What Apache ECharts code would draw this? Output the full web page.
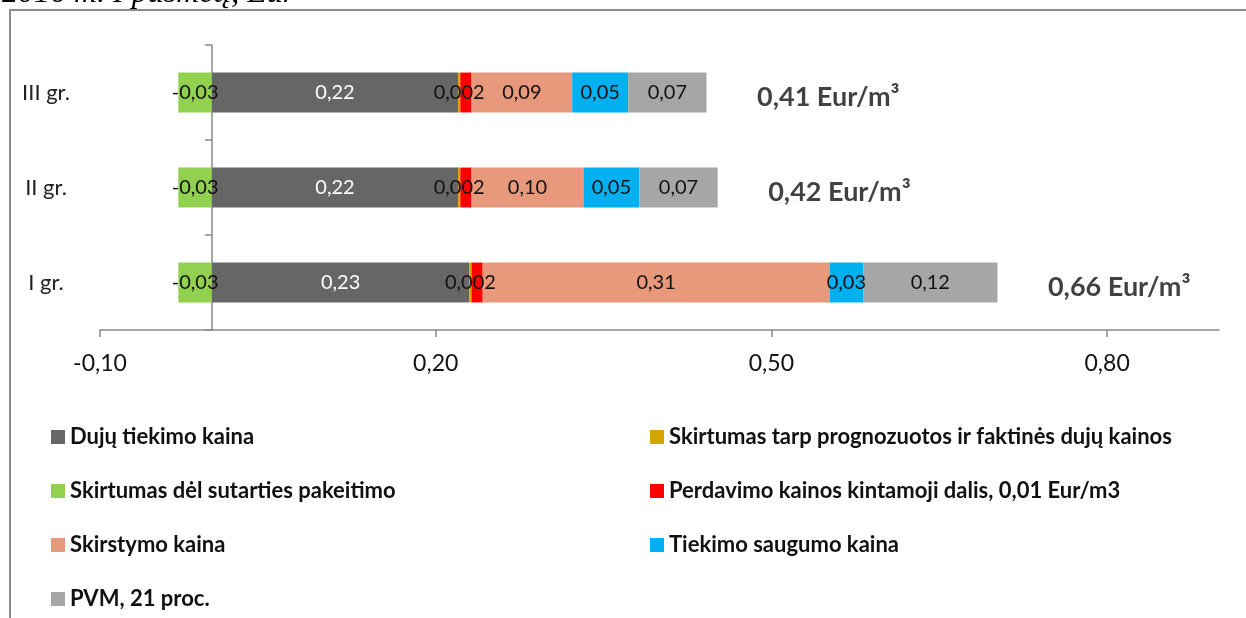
<!DOCTYPE html>
<html>
<head>
<meta charset="utf-8">
<script src="https://cdn.jsdelivr.net/npm/echarts@6/dist/echarts.min.js"></script>
<style>
  html, body { margin: 0; padding: 0; background: #fff; }
  #chart { width: 1246px; height: 618px; }
</style>
</head>
<body>
<div id="chart"></div>
<script>
// kategorijos (nuo apačios į viršų)
var groups = ['I gr.', 'II gr.', 'III gr.'];

var skirtumasSutarties = [-0.03, -0.03, -0.03];
var dujuTiekimas = [0.23, 0.22, 0.22];
var skirtumasPrognozes = [0.002, 0.002, 0.002];
var perdavimas = [0.01, 0.01, 0.01];
var skirstymas = [0.31, 0.10, 0.09];
var tiekimoSaugumas = [0.03, 0.05, 0.05];
var pvm = [0.12, 0.07, 0.07];

var totals = [0.66, 0.42, 0.41];
var xTicks = [-0.10, 0.20, 0.50, 0.80];

var FONT = 'Lato';

function comma(v, d) {
  return v.toFixed(d).replace('.', ',');
}

function decimals(v) {
  return Math.abs(v) < 0.01 ? 3 : 2;
}

function barSeries(name, data, color, labelColor, showLabel) {
  return {
    name: name,
    type: 'bar',
    stack: 'viso',
    yAxisIndex: 0,
    barWidth: '42%',
    data: data,
    itemStyle: { color: color },
    label: {
      show: showLabel,
      position: 'inside',
      color: labelColor,
      fontFamily: FONT,
      fontSize: 20,
      formatter: function (p) { return comma(p.value, decimals(p.value)); }
    }
  };
}

// pozityvių dalių suma - kur baigiasi stulpelis
var barEnds = groups.map(function (g, i) {
  return dujuTiekimas[i] + skirtumasPrognozes[i] + perdavimas[i] +
    skirstymas[i] + tiekimoSaugumas[i] + pvm[i];
});

var chart = echarts.init(document.getElementById('chart'));

var legendText = { fontFamily: FONT, fontSize: 22, fontWeight: 'bold', color: '#111' };

var option = {
  animation: false,
  grid: { left: 100, right: 27, top: 45, bottom: 288 },
  graphic: [
    {
      type: 'polyline',
      shape: { points: [[10, 618], [10, 10], [1246, 10]] },
      style: { stroke: '#8c8c8c', lineWidth: 2, fill: null }
    },
    {
      type: 'text',
      left: 2,
      top: -22,
      style: {
        text: '2016 m. I pusmetį, Eur',
        font: 'italic 32px "Liberation Serif"',
        fill: '#000'
      }
    }
  ],
  legend: [
    {
      orient: 'vertical',
      left: 51,
      top: 426,
      padding: 0,
      itemWidth: 14,
      itemHeight: 14,
      itemGap: 32,
      icon: 'rect',
      textStyle: legendText,
      data: ['Dujų tiekimo kaina', 'Skirtumas dėl sutarties pakeitimo', 'Skirstymo kaina', 'PVM, 21 proc.']
    },
    {
      orient: 'vertical',
      left: 650,
      top: 426,
      padding: 0,
      itemWidth: 14,
      itemHeight: 14,
      itemGap: 32,
      icon: 'rect',
      textStyle: legendText,
      data: ['Skirtumas tarp prognozuotos ir faktinės dujų kainos', 'Perdavimo kainos kintamoji dalis, 0,01 Eur/m3', 'Tiekimo saugumo kaina']
    }
  ],
  xAxis: {
    type: 'value',
    min: -0.1,
    max: 0.9,
    axisLine: { show: true, onZero: false, lineStyle: { color: '#8a8a8a', width: 1.5 } },
    axisTick: { show: true, length: 7, customValues: xTicks, lineStyle: { color: '#8a8a8a', width: 1.5 } },
    splitLine: { show: false },
    axisLabel: {
      customValues: xTicks,
      margin: 22,
      color: '#111',
      fontFamily: FONT,
      fontSize: 23,
      formatter: function (v) { return comma(v, 2); }
    }
  },
  yAxis: [
    {
      type: 'category',
      data: groups,
      axisLine: { show: false, onZero: false },
      axisTick: { show: false },
      axisLabel: {
        margin: 54,
        align: 'center',
        color: '#222',
        fontFamily: FONT,
        fontSize: 22
      }
    },
    {
      type: 'category',
      position: 'left',
      data: groups,
      axisLine: { show: true, onZero: true, lineStyle: { color: '#8a8a8a', width: 1.5 } },
      axisTick: { show: true, length: 7, lineStyle: { color: '#8a8a8a', width: 1.5 } },
      axisLabel: { show: false }
    }
  ],
  series: [
    barSeries('Skirtumas dėl sutarties pakeitimo', skirtumasSutarties, '#92D050', '#111', true),
    barSeries('Dujų tiekimo kaina', dujuTiekimas, '#666666', '#fff', true),
    barSeries('Skirtumas tarp prognozuotos ir faktinės dujų kainos', skirtumasPrognozes, '#D6A400', '#111', true),
    barSeries('Perdavimo kainos kintamoji dalis, 0,01 Eur/m3', perdavimas, '#FF0000', '#111', false),
    barSeries('Skirstymo kaina', skirstymas, '#E9997B', '#111', true),
    barSeries('Tiekimo saugumo kaina', tiekimoSaugumas, '#00B0F0', '#111', true),
    barSeries('PVM, 21 proc.', pvm, '#A6A6A6', '#111', true),
    {
      name: 'Viso',
      type: 'scatter',
      yAxisIndex: 0,
      symbolSize: 1,
      itemStyle: { color: 'rgba(0,0,0,0)' },
      data: groups.map(function (g, i) { return [barEnds[i], g]; }),
      label: {
        show: true,
        position: 'right',
        distance: 50,
        offset: [0, 5],
        color: '#111',
        fontFamily: FONT,
        fontSize: 27,
        fontWeight: 'bold',
        formatter: function (p) { return comma(totals[p.dataIndex], 2) + ' Eur/m³'; }
      }
    }
  ]
};

chart.setOption(option);
</script>
</body>
</html>
